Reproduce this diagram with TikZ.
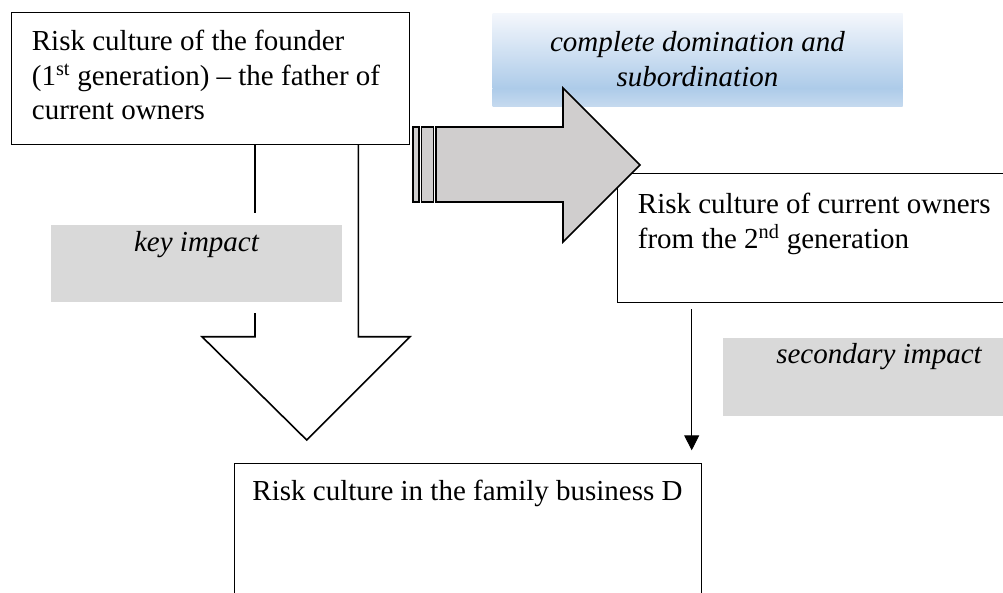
\documentclass[tikz,border=0pt]{standalone}
\usepackage{fontspec}
\setmainfont{Liberation Serif}
\usetikzlibrary{arrows.meta}
\definecolor{arrowgray}{HTML}{D0CECE}
\definecolor{labelgray}{HTML}{D9D9D9}
\definecolor{bluetop}{HTML}{F4F7FC}
\definecolor{bluemid}{HTML}{ADCBE9}
\definecolor{bluebot}{HTML}{C6DAEF}
\begin{document}
\begin{tikzpicture}[x=1pt,y=-1pt,
  box/.style={draw=black, line width=0.9pt, fill=white, inner sep=0pt, anchor=north west},
  labelbox/.style={fill=labelgray, draw=none, inner sep=0pt, anchor=north west},
  txt/.style={font=\fontsize{29}{34.5}\selectfont, inner sep=0pt},
  itxt/.style={font=\fontsize{29}{34.5}\selectfont\itshape, inner sep=0pt, anchor=base},
  bigarrow/.style={draw=black, line width=1.6pt, line join=miter},
  thinarrow/.style={draw=black, line width=0.9pt, -{Triangle[width=15pt,length=15pt]}}]
\clip (0,0) rectangle (1003,592);
\fill[white] (0,0) rectangle (1003,592);

% blue gradient label
\shade[top color=bluetop, bottom color=bluemid] (492.7,13.3) rectangle (902.7,88.5);
\shade[top color=bluemid, bottom color=bluebot] (492.7,88) rectangle (902.7,106.7);
\node[itxt] (dom1) at (697.5,51) {complete domination and};
\node[itxt] (dom2) at (697.5,86) {subordination};

% key impact down arrow
\path[bigarrow, fill=white] (255,143.3) -- (255,336.7) -- (202,336.7) -- (306.7,440)
  -- (410,336.7) -- (358.3,336.7) -- (358.3,143.3) -- cycle;
\fill[white] (39,213) rectangle (354.5,313);
\node[labelbox, minimum width=290.7pt, minimum height=77pt] (keybox) at (51,225) {};
\node[itxt] (keytxt) at (196.5,251.5) {key impact};

% founder box
\node[box, minimum width=398pt, minimum height=132.3pt] (founder) at (11.3,11.7) {};
\node[txt, anchor=base west] (f1) at (31.7,50) {Risk culture of the founder};
\node[txt, anchor=base west] (f2) at (31.7,85) {(1\textsuperscript{st} generation) – the father of};
\node[txt, anchor=base west] (f3) at (31.7,119.5) {current owners};

% owners box
\node[box, minimum width=430pt, minimum height=128.4pt] (owners) at (617,173.3) {};
\node[txt, anchor=base west] (o1) at (637.7,213) {Risk culture of current owners};
\node[txt, anchor=base west] (o2) at (637.7,248) {from the 2\textsuperscript{nd} generation};

% striped right arrow
\path[bigarrow, fill=arrowgray] (412.7,127) rectangle (419,202);
\path[bigarrow, fill=arrowgray] (421.5,127) rectangle (433.3,202);
\path[bigarrow, fill=arrowgray] (436,127) -- (563,127) -- (563,88) -- (640,165)
  -- (563,242) -- (563,202) -- (436,202) -- cycle;

% secondary impact label
\node[labelbox, minimum width=312pt, minimum height=77.7pt] (secbox) at (723,338) {};
\node[itxt] (sectxt) at (879,363) {secondary impact};

% business box
\node[box, minimum width=466.4pt, minimum height=160pt] (business) at (234.3,463.3) {};
\node[txt, anchor=base] (b1) at (467.5,500) {Risk culture in the family business D};

% secondary impact connector
\draw[thinarrow, shorten <=6.5pt, shorten >=13pt]
  ([xshift=74.7pt]owners.south west) -- ([xshift=457.4pt]business.north west);
\end{tikzpicture}
\end{document}
